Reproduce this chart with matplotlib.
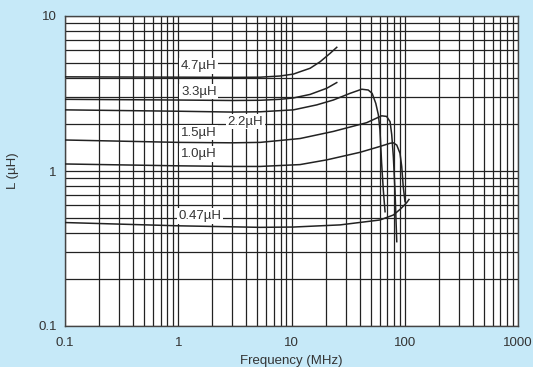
import matplotlib
matplotlib.use("Agg")
import matplotlib.pyplot as plt

plt.rcParams['font.family'] = ['Liberation Sans', 'DejaVu Sans']

# inductance vs frequency
f_47 = [0.1, 1, 3, 5.3, 7.9, 10.4, 11.9, 14.6, 17.9, 21.9, 25.1]
l_47 = [4.05, 4.03, 4.02, 4.03, 4.1, 4.22, 4.37, 4.6, 5.07, 5.74, 6.28]

f_33 = [0.1, 1, 3, 5.3, 7.9, 10.4, 14.6, 20.5, 25.1]
l_33 = [2.9, 2.87, 2.85, 2.86, 2.9, 2.96, 3.12, 3.42, 3.72]

f_22 = [0.1, 1, 3, 5.3, 10.4, 16.7, 23.4, 32.9, 41.7, 47.6, 51.5, 55.5, 58.5, 60.4, 62.5, 64.7, 67]
l_22 = [2.48, 2.43, 2.4, 2.41, 2.48, 2.67, 2.87, 3.17, 3.37, 3.33, 3.17, 2.73, 2.3, 1.84, 1.12, 0.75, 0.546]

f_15 = [0.1, 1, 3, 5.3, 11.9, 23.4, 46.1, 62.5, 69.2, 74.2, 76.7, 79.3, 82, 85]
l_15 = [1.585, 1.53, 1.52, 1.53, 1.62, 1.8, 2.05, 2.27, 2.25, 2.08, 1.72, 1.24, 0.75, 0.35]

f_10 = [0.1, 1, 3, 5.3, 11.9, 20.5, 40.3, 60.4, 74.2, 79.3, 85, 90.8, 94, 97, 100.5]
l_10 = [1.11, 1.08, 1.07, 1.07, 1.1, 1.18, 1.32, 1.44, 1.51, 1.52, 1.47, 1.30, 1.07, 0.79, 0.634]

f_047 = [0.1, 1, 5.3, 10.4, 26.8, 60.4, 79.3, 92, 104, 109]
l_047 = [0.465, 0.443, 0.433, 0.435, 0.449, 0.483, 0.52, 0.57, 0.625, 0.655]

curves = [(f_47, l_47), (f_33, l_33), (f_22, l_22), (f_15, l_15), (f_10, l_10), (f_047, l_047)]
names = ['4.7µH', '3.3µH', '2.2µH', '1.5µH', '1.0µH', '0.47µH']
label_pos = [(1.52, 4.76), (1.52, 3.25), (3.9, 2.08), (1.52, 1.77), (1.52, 1.29), (1.55, 0.513)]

xticks = [0.1, 1, 10, 100, 1000]
xtick_labels = ['0.1', '1', '10', '100', '1000']
yticks = [0.1, 1, 10]
ytick_labels = ['0.1', '1', '10']

fig = plt.figure(figsize=(5.33, 3.67), dpi=100)
fig.patch.set_facecolor('#c6e9f8')
ax = fig.add_axes([65 / 533, 41 / 367, 453 / 533, 310 / 367])
ax.set_facecolor('white')

ax.set_xscale('log')
ax.set_yscale('log')
ax.set_xlim(0.1, 1000)
ax.set_ylim(0.1, 10)

ax.grid(True, which='both', color='#222222', lw=0.9)
ax.set_axisbelow(True)

for (f, l) in curves:
    ax.plot(f, l, color='#222222', lw=1.1, zorder=3)

for name, (x, y) in zip(names, label_pos):
    ax.text(x, y, name, ha='center', va='center', fontsize=9.5, color='#333333', zorder=4,
            bbox=dict(facecolor='white', edgecolor='none', pad=1.2))

ax.set_xticks(xticks)
ax.set_xticklabels(xtick_labels)
ax.set_yticks(yticks)
ax.set_yticklabels(ytick_labels)
ax.tick_params(which='both', length=0, labelsize=9.5, labelcolor='#333333')
ax.tick_params(axis='x', pad=8)
ax.tick_params(axis='y', pad=6)

for s in ax.spines.values():
    s.set_color('#444444')
    s.set_linewidth(1.0)

ax.set_xlabel('Frequency (MHz)', fontsize=9.5, color='#333333', labelpad=4)
ax.set_ylabel('L (µH)', fontsize=9.5, color='#333333', labelpad=14)

fig.savefig('out.png', dpi=100, facecolor=fig.get_facecolor())
